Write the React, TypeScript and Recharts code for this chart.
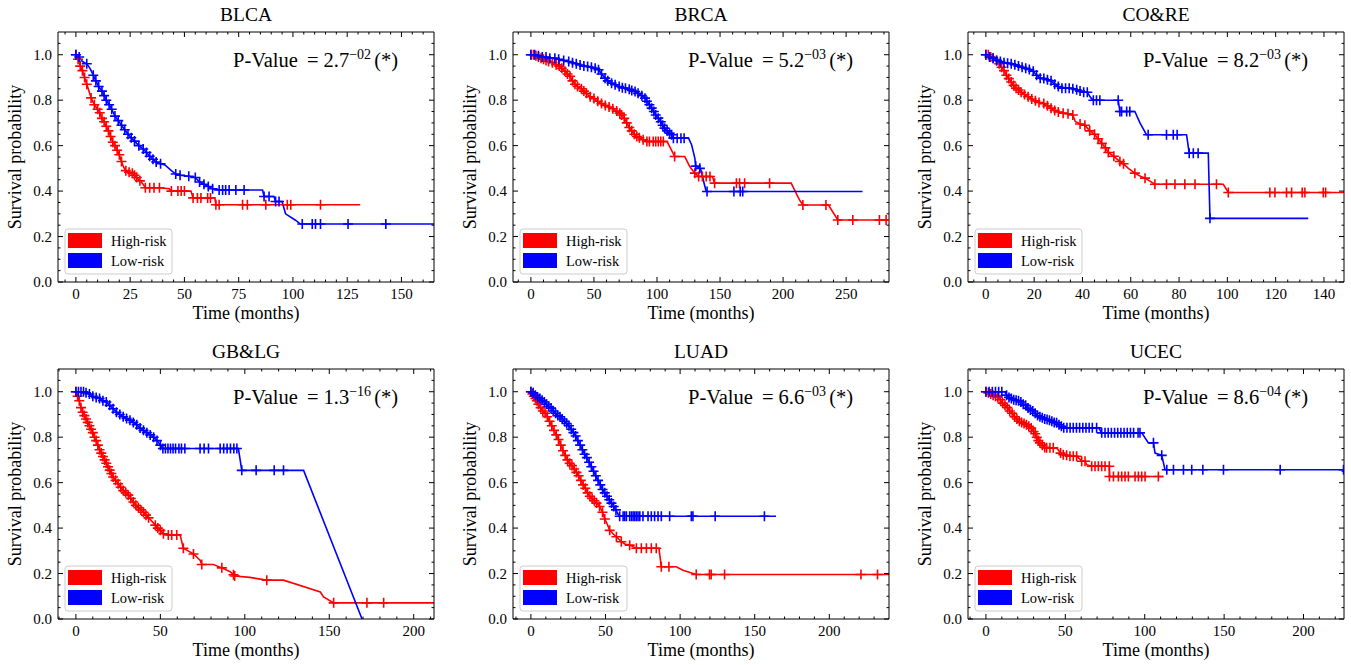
import { LineChart, Line, XAxis, YAxis } from "recharts";

// [time (months), survival probability, censored mark (1 = draw "+")]
type Pt = [number, number, number];

const BLCA_HIGH: Pt[] = [
  [0, 1.0, 1], [1, 0.98, 1], [2, 0.95, 1], [3, 0.93, 1], [4, 0.9, 1], [5, 0.87, 1], [6, 0.84, 0],
  [7, 0.81, 1], [8.5, 0.78, 1], [10, 0.76, 1], [11, 0.745, 1], [12, 0.72, 1], [13, 0.705, 1],
  [14, 0.685, 1], [15, 0.665, 1], [16, 0.64, 1], [17, 0.615, 1], [18, 0.6, 1], [19, 0.58, 1],
  [20, 0.56, 1], [21, 0.53, 1], [22, 0.505, 0], [23, 0.49, 1], [24.5, 0.483, 1], [26, 0.478, 1],
  [27, 0.47, 1], [28, 0.46, 1], [29.5, 0.445, 1], [31, 0.43, 0], [32, 0.415, 1], [34, 0.415, 1],
  [36, 0.415, 1], [38.5, 0.415, 1], [43, 0.41, 0], [44, 0.4, 1], [47, 0.4, 1], [48.5, 0.4, 1],
  [50, 0.4, 1], [53, 0.4, 0], [54, 0.37, 1], [56, 0.37, 1], [57.6, 0.37, 1], [60.7, 0.37, 1],
  [62, 0.37, 1], [64, 0.37, 0], [64.5, 0.34, 1], [66, 0.34, 1], [76.8, 0.34, 1], [79, 0.34, 1],
  [87.5, 0.34, 1], [97.4, 0.34, 1], [99, 0.34, 1], [112.7, 0.34, 1], [131, 0.34, 0],
];
const BLCA_LOW: Pt[] = [
  [0, 1.0, 1], [1.5, 0.99, 1], [3, 0.97, 0], [5, 0.96, 1], [6.5, 0.94, 0], [8, 0.91, 1],
  [9.2, 0.885, 1], [10.5, 0.86, 1], [12, 0.84, 1], [13, 0.82, 1], [14, 0.8, 1], [15.3, 0.78, 1],
  [16.5, 0.76, 1], [18, 0.73, 1], [19.5, 0.71, 1], [21, 0.69, 1], [22.5, 0.67, 1], [24, 0.65, 1],
  [25.5, 0.635, 1], [27, 0.62, 1], [29, 0.6, 1], [31, 0.585, 1], [32.5, 0.57, 1], [34, 0.553, 1],
  [35.5, 0.54, 1], [37, 0.528, 1], [39, 0.52, 1], [41, 0.515, 0], [44, 0.49, 0], [46, 0.475, 1],
  [48, 0.47, 1], [52, 0.465, 1], [55, 0.46, 1], [57, 0.44, 1], [59, 0.43, 1], [61, 0.42, 1],
  [63, 0.41, 1], [66, 0.405, 1], [67.6, 0.405, 1], [69, 0.405, 1], [70.6, 0.405, 1],
  [73.7, 0.405, 1], [77.5, 0.405, 1], [86, 0.405, 0], [86.7, 0.376, 1], [89, 0.376, 1],
  [91.3, 0.376, 0], [92, 0.354, 1], [93.6, 0.354, 1], [95, 0.354, 0], [96.6, 0.3, 0],
  [101, 0.273, 0], [103.5, 0.255, 0], [104.3, 0.255, 1], [108.9, 0.255, 1], [110.4, 0.255, 1],
  [112.7, 0.255, 1], [125.4, 0.255, 1], [142.8, 0.255, 1], [165, 0.255, 0],
];

const BRCA_HIGH: Pt[] = [
  [0, 1.0, 1], [2, 1.0, 1], [4, 0.995, 1], [6, 0.99, 1], [8, 0.985, 1], [10, 0.98, 1],
  [12, 0.975, 1], [14, 0.97, 1], [17, 0.965, 1], [20, 0.956, 1], [22.5, 0.95, 1], [24.5, 0.94, 1],
  [27, 0.927, 1], [29, 0.915, 1], [31, 0.905, 1], [33, 0.885, 1], [35, 0.87, 1], [37, 0.86, 1],
  [40, 0.85, 1], [42, 0.84, 1], [44, 0.83, 1], [47, 0.815, 1], [50, 0.807, 1], [53, 0.795, 1],
  [56, 0.785, 1], [59, 0.777, 1], [62, 0.77, 1], [65, 0.762, 1], [68, 0.752, 1], [70.5, 0.743, 1],
  [72, 0.735, 1], [74, 0.72, 1], [76, 0.7, 1], [78, 0.68, 1], [80, 0.665, 1], [82, 0.65, 1],
  [84, 0.64, 1], [86, 0.635, 1], [89, 0.626, 1], [92, 0.618, 1], [94, 0.618, 1], [97, 0.618, 1],
  [99, 0.618, 1], [101, 0.618, 1], [103, 0.618, 1], [105, 0.618, 1], [108, 0.618, 0],
  [111.4, 0.581, 0], [114, 0.552, 1], [122, 0.552, 0], [126, 0.508, 0], [130, 0.479, 1],
  [133, 0.464, 1], [136, 0.464, 1], [139, 0.464, 1], [142, 0.464, 1], [144, 0.464, 0],
  [145.7, 0.435, 1], [163, 0.435, 1], [165.5, 0.435, 1], [169.5, 0.435, 1], [189.3, 0.435, 1],
  [206.4, 0.435, 0], [213, 0.361, 0], [215.7, 0.339, 1], [234, 0.339, 1], [236, 0.339, 0],
  [243.4, 0.273, 1], [255.3, 0.273, 1], [276.4, 0.273, 1], [281.7, 0.273, 1], [284, 0.273, 0],
];
const BRCA_LOW: Pt[] = [
  [0, 1.0, 1], [3, 1.0, 1], [6, 0.995, 1], [9, 0.99, 1], [12, 0.99, 1], [15, 0.985, 1],
  [19, 0.985, 1], [22, 0.98, 1], [26, 0.975, 1], [30, 0.97, 1], [33, 0.965, 1], [36, 0.96, 1],
  [39, 0.955, 1], [42, 0.95, 1], [45, 0.948, 1], [48, 0.945, 1], [51, 0.94, 1], [53.6, 0.934, 1],
  [56, 0.915, 1], [58.8, 0.897, 1], [61, 0.885, 1], [64, 0.875, 1], [66.8, 0.868, 1], [70, 0.86, 1],
  [72.5, 0.855, 1], [75, 0.853, 1], [78, 0.848, 1], [80, 0.843, 1], [82.6, 0.838, 1], [85, 0.83, 1],
  [88, 0.82, 1], [90.5, 0.809, 1], [92, 0.795, 1], [94, 0.78, 1], [95.8, 0.765, 1], [97.5, 0.75, 1],
  [99, 0.735, 1], [101, 0.721, 1], [103, 0.705, 1], [104.5, 0.69, 1], [106, 0.677, 1],
  [108, 0.665, 1], [110, 0.655, 1], [111.6, 0.648, 1], [113, 0.633, 1], [116, 0.633, 1],
  [119, 0.633, 1], [121.5, 0.633, 1], [125, 0.633, 0], [127.5, 0.603, 0], [130, 0.545, 0],
  [130.7, 0.51, 1], [134, 0.5, 1], [135, 0.49, 0], [137, 0.442, 0], [139, 0.398, 0],
  [139.7, 0.398, 1], [161, 0.398, 1], [166, 0.398, 1], [168, 0.398, 1], [263, 0.398, 0],
];

const CORE_HIGH: Pt[] = [
  [0, 1.0, 1], [1, 1.0, 1], [2, 0.99, 1], [3, 0.985, 1], [4.4, 0.975, 1], [5.5, 0.96, 1],
  [6.5, 0.945, 1], [7.5, 0.93, 1], [8.5, 0.91, 1], [9.5, 0.895, 1], [10.5, 0.88, 1],
  [11.5, 0.865, 1], [12.5, 0.853, 1], [13.5, 0.845, 1], [14.6, 0.835, 1], [16, 0.825, 1],
  [17.5, 0.815, 1], [19, 0.805, 1], [20.5, 0.797, 1], [22, 0.79, 1], [24, 0.785, 1],
  [25.5, 0.775, 1], [27, 0.765, 1], [28.5, 0.755, 1], [30, 0.748, 1], [32, 0.743, 1],
  [34, 0.74, 1], [36, 0.735, 1], [37, 0.706, 0], [39, 0.695, 1], [41, 0.69, 1], [43, 0.665, 1],
  [45, 0.65, 1], [46.5, 0.63, 1], [48, 0.61, 1], [49.5, 0.59, 1], [50.7, 0.57, 1], [53, 0.553, 1],
  [55.5, 0.53, 1], [57, 0.52, 1], [59, 0.5, 0], [61.7, 0.479, 1], [64, 0.465, 0], [65.9, 0.457, 1],
  [70, 0.43, 1], [74.8, 0.43, 1], [78.3, 0.43, 1], [82.4, 0.43, 1], [86.6, 0.43, 1], [95.5, 0.43, 1],
  [98.3, 0.43, 0], [100.4, 0.394, 1], [117.6, 0.394, 1], [119.7, 0.394, 1], [124.5, 0.394, 1],
  [126.6, 0.394, 1], [131, 0.394, 1], [132.1, 0.394, 1], [139.7, 0.394, 1], [140.7, 0.394, 1],
  [148.5, 0.394, 0],
];
const CORE_LOW: Pt[] = [
  [0, 1.0, 1], [1.5, 0.99, 1], [3, 0.985, 1], [4.5, 0.975, 1], [6, 0.97, 1], [7.5, 0.965, 1],
  [9, 0.963, 1], [10.5, 0.96, 1], [12, 0.956, 1], [13.5, 0.95, 1], [15, 0.945, 1], [16.5, 0.94, 1],
  [18, 0.935, 1], [19.6, 0.927, 1], [21, 0.91, 1], [22.5, 0.897, 1], [24, 0.895, 1], [25.5, 0.89, 1],
  [27, 0.885, 1], [28.5, 0.87, 1], [30, 0.86, 1], [31.5, 0.853, 1], [33, 0.853, 1], [34.5, 0.853, 1],
  [36, 0.85, 1], [37.6, 0.846, 1], [39, 0.84, 1], [40.5, 0.835, 1], [42, 0.835, 1], [43.5, 0.81, 0],
  [44.5, 0.8, 1], [45.8, 0.8, 1], [47.2, 0.8, 1], [54.8, 0.8, 1], [55.5, 0.75, 1], [56.2, 0.75, 1],
  [58.3, 0.75, 1], [59.6, 0.75, 1], [61.7, 0.75, 0], [63.8, 0.7, 0], [66.5, 0.648, 0],
  [67.2, 0.648, 1], [74.8, 0.648, 1], [77.6, 0.648, 1], [79.2, 0.648, 1], [83.1, 0.648, 0],
  [84.2, 0.567, 1], [85.9, 0.567, 1], [87.9, 0.567, 1], [92.1, 0.567, 0], [92.8, 0.28, 1],
  [133.5, 0.28, 0],
];

const GBLG_HIGH: Pt[] = [
  [0, 1.0, 1], [1, 0.98, 1], [2, 0.96, 1], [3, 0.93, 1], [4, 0.91, 1], [5, 0.895, 1], [6, 0.88, 1],
  [7, 0.865, 1], [8, 0.85, 1], [9, 0.835, 1], [10, 0.82, 1], [11, 0.8, 1], [12, 0.785, 1],
  [13, 0.765, 1], [14, 0.745, 1], [15, 0.73, 1], [16, 0.715, 1], [17, 0.7, 1], [18, 0.685, 1],
  [19, 0.67, 1], [20, 0.655, 1], [21, 0.64, 1], [22, 0.625, 1], [23.5, 0.61, 1], [25, 0.595, 1],
  [26.5, 0.58, 1], [28, 0.565, 1], [29.5, 0.555, 1], [31, 0.545, 1], [32.5, 0.53, 1], [34, 0.515, 1],
  [35.5, 0.5, 1], [37, 0.49, 1], [38.5, 0.48, 1], [40, 0.47, 1], [41.5, 0.457, 1], [43, 0.445, 1],
  [45, 0.43, 0], [47, 0.413, 1], [48.5, 0.4, 1], [50, 0.39, 1], [51.8, 0.375, 1], [54.7, 0.37, 1],
  [56.7, 0.37, 1], [59.7, 0.37, 1], [61.7, 0.37, 0], [63.6, 0.311, 1], [65.6, 0.303, 0],
  [69.6, 0.286, 1], [73.5, 0.259, 0], [74.5, 0.24, 1], [81.4, 0.24, 0], [86.4, 0.225, 1],
  [91.3, 0.208, 0], [93.3, 0.195, 1], [94, 0.189, 1], [103, 0.183, 0], [113, 0.171, 1],
  [122.9, 0.171, 0], [144.7, 0.119, 0], [146.6, 0.097, 0], [152.6, 0.071, 1], [172.3, 0.071, 1],
  [182.2, 0.071, 1], [212, 0.071, 0],
];
const GBLG_LOW: Pt[] = [
  [0, 1.0, 1], [1.5, 1.0, 1], [3, 1.0, 1], [4.5, 1.0, 1], [6, 0.995, 1], [8, 0.99, 1], [10, 0.98, 1],
  [12, 0.975, 1], [14, 0.97, 1], [16, 0.96, 1], [18, 0.955, 1], [20, 0.94, 1], [22, 0.925, 1],
  [24, 0.91, 1], [26, 0.9, 1], [28, 0.89, 1], [30, 0.882, 1], [32, 0.875, 1], [34, 0.865, 1],
  [36, 0.855, 1], [38, 0.84, 1], [40, 0.83, 1], [42, 0.82, 1], [44, 0.81, 1], [46, 0.8, 1],
  [48, 0.785, 1], [50, 0.765, 1], [51.5, 0.75, 1], [53, 0.75, 1], [54.5, 0.75, 1], [56, 0.75, 1],
  [57.5, 0.75, 1], [59, 0.75, 1], [61, 0.75, 1], [62.5, 0.75, 1], [64.5, 0.75, 1], [73.5, 0.75, 1],
  [75.9, 0.75, 1], [78.5, 0.75, 1], [85.4, 0.75, 1], [87.5, 0.75, 1], [89.5, 0.75, 1],
  [91.5, 0.75, 1], [93.5, 0.75, 1], [95.3, 0.75, 1], [96.2, 0.75, 0], [98.2, 0.654, 1],
  [106.7, 0.654, 1], [117.4, 0.654, 1], [122.9, 0.654, 1], [134.8, 0.654, 0], [169.4, 0, 0],
];

const LUAD_HIGH: Pt[] = [
  [0, 1.0, 1], [1, 0.99, 1], [2, 0.98, 1], [3, 0.97, 1], [4, 0.96, 1], [5, 0.945, 1], [6.5, 0.93, 1],
  [8, 0.915, 1], [9.5, 0.905, 1], [11, 0.89, 1], [12.5, 0.87, 1], [14, 0.85, 1], [15.5, 0.83, 1],
  [17, 0.81, 1], [18.5, 0.79, 1], [20, 0.765, 1], [21.5, 0.74, 1], [23, 0.72, 1], [24.5, 0.7, 1],
  [26, 0.685, 1], [27.5, 0.675, 1], [29, 0.66, 1], [30.5, 0.645, 1], [32, 0.63, 1], [33.5, 0.61, 1],
  [35, 0.59, 1], [36.5, 0.575, 1], [38, 0.555, 1], [39.5, 0.54, 1], [41, 0.53, 1], [42.5, 0.52, 1],
  [44, 0.51, 1], [46, 0.495, 1], [48, 0.47, 1], [49.5, 0.44, 1], [51, 0.42, 0], [52.8, 0.39, 1],
  [55, 0.375, 0], [57.3, 0.362, 1], [60.6, 0.34, 1], [63, 0.33, 0], [66.2, 0.325, 1],
  [70.7, 0.311, 1], [74, 0.311, 1], [77.4, 0.311, 1], [80.7, 0.311, 1], [84, 0.311, 1],
  [85.8, 0.311, 0], [87.4, 0.23, 1], [92.5, 0.23, 1], [97.4, 0.23, 0], [101.9, 0.215, 0],
  [110.8, 0.196, 1], [119.7, 0.196, 1], [120.8, 0.196, 1], [129.8, 0.196, 1], [221.2, 0.196, 1],
  [232.3, 0.196, 1], [240, 0.196, 0],
];
const LUAD_LOW: Pt[] = [
  [0, 1.0, 1], [1.5, 0.995, 1], [3, 0.985, 1], [4.5, 0.975, 1], [6, 0.97, 1], [7.5, 0.962, 1],
  [9, 0.955, 1], [10.5, 0.945, 1], [12, 0.935, 1], [13.5, 0.928, 1], [15, 0.915, 1],
  [16.5, 0.905, 1], [18, 0.895, 1], [19.5, 0.89, 1], [21, 0.88, 1], [22.5, 0.87, 1], [24, 0.86, 1],
  [25.5, 0.85, 1], [27, 0.835, 1], [28.5, 0.82, 1], [30, 0.805, 1], [31.5, 0.785, 1],
  [33, 0.765, 1], [34.5, 0.745, 1], [36, 0.725, 1], [37.5, 0.71, 1], [39, 0.69, 1], [40.5, 0.67, 1],
  [42, 0.65, 1], [43.5, 0.63, 1], [45, 0.61, 1], [46.5, 0.59, 1], [48, 0.57, 1], [49.5, 0.555, 1],
  [51, 0.54, 1], [52.5, 0.525, 1], [54, 0.51, 1], [55.5, 0.495, 1], [57, 0.48, 1], [58.5, 0.46, 0],
  [59.5, 0.452, 1], [61.8, 0.452, 1], [62.9, 0.452, 1], [64, 0.452, 1], [66.2, 0.452, 1],
  [67.4, 0.452, 1], [68.5, 0.452, 1], [69.6, 0.452, 1], [70.7, 0.452, 1], [71.8, 0.452, 1],
  [73, 0.452, 1], [75.1, 0.452, 1], [78.5, 0.452, 1], [80.7, 0.452, 1], [82.9, 0.452, 1],
  [85.2, 0.452, 1], [87.4, 0.452, 1], [93, 0.452, 1], [107.5, 0.452, 1], [108.6, 0.452, 1],
  [123.5, 0.452, 1], [156.5, 0.452, 1], [164.3, 0.452, 0],
];

const UCEC_HIGH: Pt[] = [
  [0, 1.0, 1], [1.5, 0.995, 1], [3, 0.99, 1], [4.5, 0.985, 1], [6, 0.98, 1], [7.5, 0.975, 1],
  [9, 0.965, 1], [10.5, 0.95, 1], [12, 0.94, 1], [13.5, 0.93, 1], [15, 0.915, 1], [16.5, 0.905, 1],
  [18, 0.89, 1], [19.5, 0.88, 1], [21, 0.87, 1], [22.5, 0.865, 1], [24, 0.86, 1], [25.5, 0.855, 1],
  [27, 0.848, 1], [28.5, 0.84, 1], [30, 0.825, 1], [31, 0.815, 1], [32, 0.8, 1], [33, 0.785, 1],
  [34, 0.775, 1], [35.5, 0.765, 1], [37, 0.755, 1], [38.2, 0.753, 1], [40.3, 0.753, 1],
  [42.4, 0.753, 1], [44.5, 0.753, 0], [47, 0.73, 1], [48.7, 0.723, 1], [50.8, 0.72, 1],
  [52.9, 0.716, 1], [55, 0.716, 1], [57.1, 0.716, 1], [59, 0.705, 0], [60.3, 0.694, 1],
  [62.4, 0.694, 1], [63.4, 0.679, 0], [66.6, 0.672, 1], [68.7, 0.672, 1], [70.8, 0.672, 1],
  [72.9, 0.672, 1], [75, 0.672, 1], [77.7, 0.672, 1], [77.8, 0.627, 1], [80.3, 0.627, 1],
  [83.4, 0.627, 1], [85.5, 0.627, 1], [87.6, 0.627, 1], [89.7, 0.627, 1], [93.9, 0.627, 1],
  [96, 0.627, 1], [98.1, 0.627, 1], [100.2, 0.627, 1], [108.6, 0.627, 1], [111.8, 0.627, 0],
];
const UCEC_LOW: Pt[] = [
  [0, 1.0, 1], [2, 1.0, 1], [4, 1.0, 1], [6, 1.0, 1], [8, 1.0, 1], [10, 1.0, 1], [11.8, 1.0, 0],
  [13, 0.985, 1], [14.5, 0.975, 1], [16, 0.97, 1], [17.5, 0.965, 1], [19, 0.962, 1], [20.5, 0.96, 1],
  [22, 0.955, 1], [23.5, 0.945, 1], [25, 0.94, 1], [26.5, 0.928, 1], [28, 0.92, 1], [29.5, 0.915, 1],
  [31, 0.905, 1], [32.5, 0.895, 1], [34, 0.89, 1], [35.5, 0.885, 1], [37, 0.88, 1], [38.5, 0.878, 1],
  [40, 0.875, 1], [41.5, 0.87, 1], [43, 0.865, 1], [44.5, 0.863, 1], [46, 0.855, 1], [47.5, 0.848, 1],
  [49, 0.841, 1], [51, 0.841, 1], [53, 0.841, 1], [55, 0.841, 1], [57, 0.841, 1], [59, 0.841, 1],
  [61, 0.841, 1], [63, 0.841, 1], [65, 0.841, 1], [67, 0.841, 1], [69.7, 0.841, 1], [71, 0.841, 0],
  [72.9, 0.819, 1], [75, 0.819, 1], [77, 0.819, 1], [79, 0.819, 1], [81, 0.819, 1], [83, 0.819, 1],
  [85, 0.819, 1], [87, 0.819, 1], [89, 0.819, 1], [91, 0.819, 1], [93, 0.819, 1], [95.8, 0.819, 1],
  [97, 0.819, 1], [98.1, 0.819, 0], [102.3, 0.775, 0], [105.5, 0.775, 1], [106.5, 0.73, 0],
  [110.7, 0.72, 1], [112.8, 0.657, 0], [113.9, 0.657, 1], [118.1, 0.657, 1], [124.4, 0.657, 1],
  [129.6, 0.657, 1], [136.6, 0.657, 1], [149.6, 0.657, 1], [185.3, 0.657, 1], [225.2, 0.657, 1],
  [225.8, 0.657, 0],
];

const BLCA_TICKS = [0, 25, 50, 75, 100, 125, 150];
const BRCA_TICKS = [0, 50, 100, 150, 200, 250];
const CORE_TICKS = [0, 20, 40, 60, 80, 100, 120, 140];
const GBLG_TICKS = [0, 50, 100, 150, 200];
const LUAD_TICKS = [0, 50, 100, 150, 200];
const UCEC_TICKS = [0, 50, 100, 150, 200];
const Y_TICKS = [0, 0.2, 0.4, 0.6, 0.8, 1.0];

const PANELS = [
  { title: "BLCA", p: "2.7", exp: "\u221202", high: BLCA_HIGH, low: BLCA_LOW, dom: [-8.25, 165], major: BLCA_TICKS, minor: 5 },
  { title: "BRCA", p: "5.2", exp: "\u221203", high: BRCA_HIGH, low: BRCA_LOW, dom: [-14.2, 284], major: BRCA_TICKS, minor: 10 },
  { title: "CO&RE", p: "8.2", exp: "\u221203", high: CORE_HIGH, low: CORE_LOW, dom: [-7.4, 148.3], major: CORE_TICKS, minor: 5 },
  { title: "GB&LG", p: "1.3", exp: "\u221216", high: GBLG_HIGH, low: GBLG_LOW, dom: [-10.6, 212], major: GBLG_TICKS, minor: 10 },
  { title: "LUAD", p: "6.6", exp: "\u221203", high: LUAD_HIGH, low: LUAD_LOW, dom: [-12, 240], major: LUAD_TICKS, minor: 10 },
  { title: "UCEC", p: "8.6", exp: "\u221204", high: UCEC_HIGH, low: UCEC_LOW, dom: [-11.3, 225.5], major: UCEC_TICKS, minor: 10 },
];

const FONT = "'Liberation Serif', 'DejaVu Serif', serif";
const RED = "#ff0000";
const BLUE = "#0000ff";
const INK = "#000";

const W = 450;
const H = 328;
// plot frame: left 58, top 32, width 376, height 250 (each axis takes 1px)
const M = { top: 31, left: 57, right: 15, bottom: 45 };
const FL = 58;
const FT = 32;
const PW = 376;
const PH = 250;

const rows = (pts: Pt[]) => pts.map(([t, s, c]) => ({ t, s, c }));

function minorTicks(dom: number[], step: number) {
  const out: number[] = [];
  for (let k = Math.ceil(dom[0] / step); k * step < dom[1]; k++) out.push(k * step);
  return out;
}
const Y_ALL = Array.from({ length: 22 }, (_, k) => Math.round(k * 5) / 100);

const tickText = { fontFamily: FONT, fontSize: 15, fill: INK };

function tickFor(side: string, isMajor: (v: number) => boolean, fmt: (v: number) => string) {
  return (props: any) => {
    const { x, y, payload } = props;
    const v = payload.value;
    const maj = isMajor(v);
    const len = maj ? 5 : 2.5;
    let line;
    let label = null;
    if (side === "bottom") {
      line = <line x1={x} y1={y} x2={x} y2={y - len} stroke={INK} />;
      if (maj) label = <text x={x} y={y + 17} textAnchor="middle" style={tickText}>{fmt(v)}</text>;
    } else if (side === "top") {
      line = <line x1={x} y1={y} x2={x} y2={y + len} stroke={INK} />;
    } else if (side === "left") {
      line = <line x1={x} y1={y} x2={x + len} y2={y} stroke={INK} />;
      if (maj) label = <text x={x - 6} y={y + 5} textAnchor="end" style={tickText}>{fmt(v)}</text>;
    } else {
      line = <line x1={x} y1={y} x2={x - len} y2={y} stroke={INK} />;
    }
    return <g>{line}{label}</g>;
  };
}

function censor(color: string) {
  return (props: any) => {
    const { cx, cy, payload, index } = props;
    if (!payload || !payload.c) return <g key={`n${index}`} />;
    return (
      <path key={`c${index}`} d={`M${cx - 5},${cy}h10M${cx},${cy - 5}v10`} stroke={color} strokeWidth={1.6} fill="none" />
    );
  };
}

function Panel({ cfg, left, top }: { cfg: (typeof PANELS)[number]; left: number; top: number }) {
  const xs = minorTicks(cfg.dom, cfg.minor);
  const xMajor = (v: number) => cfg.major.includes(v);
  const yMajor = (v: number) => Y_TICKS.some((t) => Math.abs(t - v) < 1e-6);
  const fx = (v: number) => String(v);
  const fy = (v: number) => v.toFixed(1);
  const cx = FL + PW / 2;
  const cy = FT + PH / 2;
  const fb = FT + PH;
  const lx = FL + 7;
  const ly = fb - 8 - 45;
  return (
    <div style={{ position: "absolute", left, top, width: W, height: H }}>
      <LineChart width={W} height={H} margin={M} style={{ fontFamily: FONT }}>
        <XAxis xAxisId="b" type="number" dataKey="t" domain={cfg.dom} allowDataOverflow ticks={xs} interval={0}
          height={1} tickSize={0} tickMargin={0} tickLine={false} axisLine={{ stroke: INK }}
          tick={tickFor("bottom", xMajor, fx)} />
        <XAxis xAxisId="t" orientation="top" type="number" dataKey="t" domain={cfg.dom} allowDataOverflow ticks={xs} interval={0}
          height={1} tickSize={0} tickMargin={0} tickLine={false} axisLine={{ stroke: INK }}
          tick={tickFor("top", xMajor, fx)} />
        <YAxis yAxisId="l" type="number" domain={[0, 1.1]} allowDataOverflow ticks={Y_ALL} interval={0}
          width={1} tickSize={0} tickMargin={0} tickLine={false} axisLine={{ stroke: INK }}
          tick={tickFor("left", yMajor, fy)} />
        <YAxis yAxisId="r" orientation="right" type="number" domain={[0, 1.1]} allowDataOverflow ticks={Y_ALL} interval={0}
          width={1} tickSize={0} tickMargin={0} tickLine={false} axisLine={{ stroke: INK }}
          tick={tickFor("right", yMajor, fy)} />
        <Line xAxisId="b" yAxisId="l" data={rows(cfg.high)} dataKey="s" type="linear" stroke={RED} strokeWidth={1.6}
          dot={censor(RED)} activeDot={false} isAnimationActive={false} name="High-risk" />
        <Line xAxisId="b" yAxisId="l" data={rows(cfg.low)} dataKey="s" type="linear" stroke={BLUE} strokeWidth={1.6}
          dot={censor(BLUE)} activeDot={false} isAnimationActive={false} name="Low-risk" />
      </LineChart>
      <svg width={W} height={H} style={{ position: "absolute", left: 0, top: 0, pointerEvents: "none", fontFamily: FONT }}>
        <text x={cx} y={FT - 11} textAnchor="middle" fontSize={19.5} fill={INK}>{cfg.title}</text>
        <text x={FL + 175} y={FT + 35} fontSize={20.5} fill={INK}>
          <tspan>P-Value</tspan>
          <tspan dx={9}>{`= ${cfg.p}`}</tspan>
          <tspan dy={-8} fontSize={14}>{cfg.exp}</tspan>
          <tspan dy={8} dx={3}>(*)</tspan>
        </text>
        <text x={cx} y={fb + 37} textAnchor="middle" fontSize={18} fill={INK}>Time (months)</text>
        <text transform={`translate(${FL - 37},${cy}) rotate(-90)`} textAnchor="middle" fontSize={18} fill={INK}>
          Survival probability
        </text>
        <rect x={lx} y={ly} width={107} height={45} rx={3} fill="#fff" fillOpacity={0.8} stroke="#cccccc" />
        <rect x={lx + 3} y={ly + 4} width={34} height={15} fill={RED} />
        <rect x={lx + 3} y={ly + 24} width={34} height={15} fill={BLUE} />
        <text x={lx + 46} y={ly + 17} fontSize={14.5} fill={INK}>High-risk</text>
        <text x={lx + 46} y={ly + 37} fontSize={14.5} fill={INK}>Low-risk</text>
      </svg>
    </div>
  );
}

const COL_LEFT = [0, 455, 910];
const ROW_TOP = [0, 337];

export default function App() {
  return (
    <div style={{ position: "absolute", left: 0, top: 0, width: 1351, height: 665, overflow: "hidden", background: "#fff" }}>
      {PANELS.map((cfg, i) => (
        <Panel key={cfg.title} cfg={cfg} left={COL_LEFT[i % 3]} top={ROW_TOP[Math.floor(i / 3)]} />
      ))}
    </div>
  );
}
